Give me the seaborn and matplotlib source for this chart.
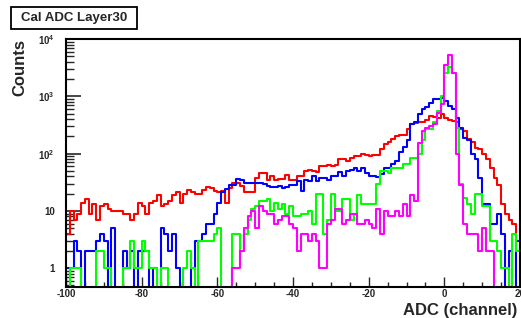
import numpy as np
import pandas as pd
import matplotlib
matplotlib.use("Agg")
import matplotlib.pyplot as plt
from matplotlib.ticker import FixedLocator, MultipleLocator, LogLocator, NullFormatter
from matplotlib.patches import Rectangle
import seaborn as sns

## bin edges: one channel per bin, -100 .. 20
edges = np.arange(-100, 21)
centers = edges[:-1] + 0.5

## counts per bin (blocks of 20 bins)
red = [4, 10, 7, 9, 14, 16, 9, 13, 7, 12, 13, 11, 10, 10, 10, 9, 9, 7, 9, 14,
       12, 9, 14, 15, 19, 12, 13, 15, 19, 21, 14, 20, 23, 21, 20, 20, 23, 26, 25, 22,
       21, 22, 14, 25, 31, 31, 27, 21, 21, 21, 38, 45, 45, 35, 40, 34, 36, 36, 42, 34,
       34, 40, 40, 50, 52, 50, 48, 60, 60, 63, 60, 63, 80, 80, 75, 85, 90, 90, 100, 95,
       92, 95, 95, 120, 145, 160, 180, 200, 210, 215, 270, 330, 345, 360, 360, 390, 460, 440, 420, 500,
       420, 380, 370, 360, 270, 250, 180, 160, 125, 120, 100, 80, 55, 38, 28, 13, 9, 7, 6, 3]

blue = [1, 1, 3, 2, 0, 2, 2, 2, 3, 4, 3, 0, 5, 0, 0, 2, 1, 2, 0, 2,
        2, 2, 0, 1, 0, 5, 4, 2, 4, 1, 0, 0, 0, 1, 3, 3, 4, 6, 6, 9,
        14, 21, 24, 28, 28, 36, 34, 31, 31, 31, 31, 31, 30, 27, 26, 26, 27, 25, 26, 28,
        28, 33, 22, 34, 33, 41, 33, 37, 37, 35, 41, 41, 47, 41, 50, 52, 55, 50, 55, 45,
        41, 41, 39, 44, 55, 55, 67, 75, 105, 130, 170, 330, 360, 500, 600, 650, 750, 880, 900, 920,
        830, 680, 600, 420, 280, 190, 170, 100, 80, 38, 13, 13, 6, 6, 9, 4, 0, 2, 0, 3]

green = [0, 1, 1, 1, 0, 0, 0, 0, 2, 2, 1, 1, 0, 0, 0, 1, 1, 3, 1, 1,
         3, 2, 1, 1, 0, 1, 1, 0, 0, 0, 0, 1, 2, 1, 0, 3, 3, 3, 3, 4,
         5, 0, 0, 0, 4, 4, 2, 4, 7, 11, 12, 15, 15, 16, 10, 14, 11, 13, 9, 12,
         8, 8, 9, 9, 10, 6, 20, 20, 4, 7, 20, 10, 10, 16, 16, 7, 9, 19, 13, 13,
         13, 13, 30, 50, 50, 45, 55, 57, 57, 67, 67, 85, 85, 100, 170, 270, 270, 360, 560, 1000,
         2500, 3300, 2600, 280, 30, 17, 13, 9, 20, 20, 12, 12, 3, 3, 2, 1, 1, 0, 4, 2]

magenta = [0] * 44 + \
          [1, 1, 2, 5, 8, 10, 5, 12, 10, 9, 9, 6, 7, 8, 8, 6,
           5, 2, 4, 4, 3, 4, 3, 1, 1, 6, 7, 11, 11, 6, 7, 9, 9, 6, 6, 7,
           6, 5, 11, 4, 10, 8, 8, 10, 8, 13, 8, 19, 15, 155, 250, 280, 300, 330, 520, 740,
           3500, 5300, 2600, 100, 28, 6, 4, 4, 4, 2, 5, 2, 2, 0, 0, 0, 0, 0, 0, 0]

series = [red, blue, green, magenta]
colors = ['#ff0000', '#0000ff', '#00ff00', '#ff00ff']

sns.set_style('white')
plt.rcParams['font.family'] = ['Liberation Sans', 'DejaVu Sans']
plt.rcParams['axes.unicode_minus'] = False
plt.rcParams['mathtext.default'] = 'regular'

fig = plt.figure(figsize=(5.21, 3.18), dpi=100)
ax = fig.add_axes([66 / 521, 1 - 287 / 318, (520 - 66) / 521, (287 - 39) / 318])

for vals, col in zip(series, colors):
    df = pd.DataFrame({'adc': centers, 'n': vals})
    sns.histplot(data=df, x='adc', weights='n', bins=list(edges), element='step',
                 fill=False, color=col, linewidth=1.5, ax=ax)

ax.set_yscale('log')
ax.set_xlim(-100, 20)
ax.set_ylim(0.47, 1.0e4)

## ROOT-like axes
ax.xaxis.set_major_locator(FixedLocator([-100, -80, -60, -40, -20, 0, 20]))
ax.xaxis.set_minor_locator(MultipleLocator(5))
ax.yaxis.set_major_locator(FixedLocator([1, 10, 100, 1000, 10000]))
ax.set_yticklabels(['1', '10', '10$^{2}$', '10$^{3}$', '10$^{4}$'])
ax.yaxis.set_minor_locator(LogLocator(base=10, subs=np.arange(2, 10)))
ax.yaxis.set_minor_formatter(NullFormatter())

ax.tick_params(axis='y', which='major', direction='in', length=11, width=1.2,
               labelsize=7, pad=8, left=True)
ax.tick_params(axis='y', which='minor', direction='in', length=6, width=1.0, left=True)
ax.tick_params(axis='x', which='major', direction='in', length=7, width=1.0,
               labelsize=7, pad=1.5, bottom=True)
ax.tick_params(axis='x', which='minor', direction='in', length=3.5, width=1.0, bottom=True)
for lab in ax.get_xticklabels() + ax.get_yticklabels():
    lab.set_fontweight('bold')

for sp in ax.spines.values():
    sp.set_color('black')
    sp.set_linewidth(1.5)

ax.set_xlabel('')
ax.set_ylabel('')

fig.text(20 / 521, 1 - 39 / 318, 'Counts', rotation=90, ha='center', va='top',
         fontsize=12, fontweight='bold')
fig.text(517 / 521, 1 - 311 / 318, 'ADC (channel)', ha='right', va='center',
         fontsize=12, fontweight='bold')

## title box
fig.patches.append(Rectangle((11 / 521, 1 - 29 / 318), 126 / 521, 22 / 318,
                             transform=fig.transFigure, fill=False,
                             edgecolor='black', linewidth=1.3))
fig.text(74 / 521, 1 - 18 / 318, 'Cal ADC Layer30', ha='center', va='center',
         fontsize=9.5, fontweight='bold')

fig.savefig('out.png', dpi=100)
